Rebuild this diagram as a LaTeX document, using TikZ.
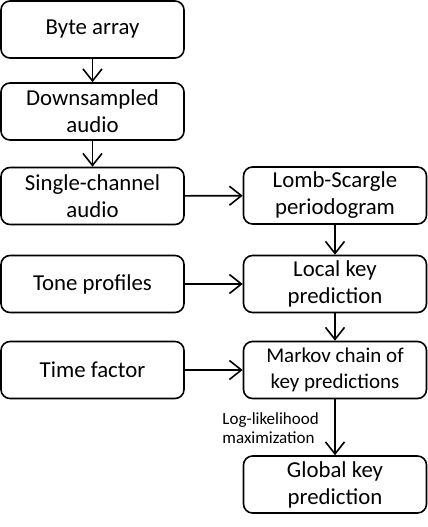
\documentclass[tikz,border=0pt]{standalone}
\usepackage{fontspec}
\setmainfont{Carlito}
\usetikzlibrary{arrows.meta}
\begin{document}
\begin{tikzpicture}[x=1pt,y=1pt,
  box/.style={draw, line width=1.6pt, rounded corners=9pt, minimum width=183pt, minimum height=57pt, align=center, font=\fontsize{22.8}{27}\selectfont, inner sep=0pt},
  arr/.style={line width=1.6pt, -{Straight Barb[length=12pt,width=19pt]}},
  lbl/.style={font=\fontsize{17}{19.5}\selectfont, align=left, inner sep=0pt}]
\useasboundingbox (0,0) rectangle (428,-527);
\node[box] (b1) at (92.5,-29.5) {Byte array};
\node[box] (b2) at (92.5,-111.5) {Downsampled\\audio};
\node[box] (b3) at (92.5,-196) {Single-channel\\audio};
\node[box] (ls) at (335,-195.5) {Lomb-Scargle\\periodogram};
\node[box] (tp) at (92.5,-284) {Tone profiles};
\node[box] (lk) at (335,-284) {Local key\\prediction};
\node[box] (tf) at (92.5,-370) {Time factor};
\node[box, font=\fontsize{21}{26}\selectfont] (mc) at (335,-370) {Markov chain of\\key predictions};
\node[box] (gk) at (335,-484.5) {Global key\\prediction};
\node[lbl, anchor=east] (ll) at (319,-428) {Log-likelihood\\maximization};
\draw[arr] (b1) -- (b2);
\draw[arr] (b2) -- (b3);
\draw[arr] (b3) -- (ls);
\draw[arr] (ls) -- (lk);
\draw[arr] (tp) -- (lk);
\draw[arr] (lk) -- (mc);
\draw[arr] (tf) -- (mc);
\draw[arr] (mc) -- (gk);
\end{tikzpicture}
\end{document}
